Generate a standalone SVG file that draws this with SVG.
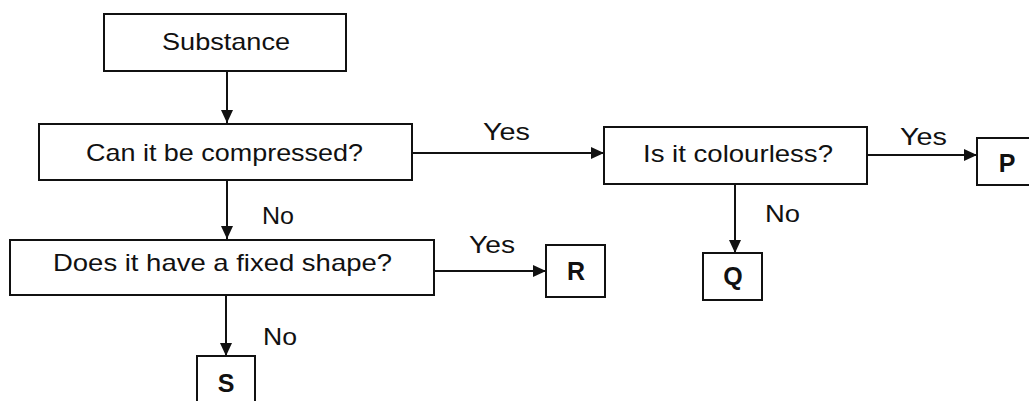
<svg xmlns="http://www.w3.org/2000/svg" width="1029" height="401" viewBox="0 0 1029 401">
<defs>
<style>
.box{fill:#fff;stroke:#111;stroke-width:2}
.t{font-family:"Liberation Sans",Arial,sans-serif;font-size:24px;fill:#111}
.b{font-family:"Liberation Sans",Arial,sans-serif;font-size:25px;font-weight:bold;fill:#111;text-anchor:middle}
.c{stroke:#111;stroke-width:2;fill:none;marker-end:url(#ah)}
</style>
<marker id="ah" markerUnits="userSpaceOnUse" markerWidth="14" markerHeight="12" refX="13" refY="6" orient="auto">
<path d="M0,0 L13,6 L0,12 Z" fill="#111"/>
</marker>
</defs>
<rect width="1029" height="401" fill="#fff"/>
<g id="connectors">
<line class="c" x1="227" y1="71" x2="227" y2="123"/>
<line class="c" x1="227" y1="180" x2="227" y2="239"/>
<line class="c" x1="412" y1="153" x2="604" y2="153"/>
<line class="c" x1="867" y1="155" x2="977" y2="155"/>
<line class="c" x1="735" y1="184" x2="735" y2="253"/>
<line class="c" x1="434" y1="271" x2="546" y2="271"/>
<line class="c" x1="226" y1="295" x2="226" y2="356"/>
<text class="t" x="483" y="140" textLength="47" lengthAdjust="spacingAndGlyphs">Yes</text>
<text class="t" x="900" y="145" textLength="47" lengthAdjust="spacingAndGlyphs">Yes</text>
<text class="t" x="469" y="253" textLength="46" lengthAdjust="spacingAndGlyphs">Yes</text>
<text class="t" x="262" y="224" textLength="32" lengthAdjust="spacingAndGlyphs">No</text>
<text class="t" x="765" y="222" textLength="35" lengthAdjust="spacingAndGlyphs">No</text>
<text class="t" x="263" y="345" textLength="34" lengthAdjust="spacingAndGlyphs">No</text>
</g>
<g id="substance">
<rect class="box" x="104" y="14" width="242" height="57"/>
<text class="t" x="162" y="50" textLength="128" lengthAdjust="spacingAndGlyphs">Substance</text>
</g>
<g id="compressed">
<rect class="box" x="39" y="124" width="373" height="56"/>
<text class="t" x="86" y="161" textLength="277" lengthAdjust="spacingAndGlyphs">Can it be compressed?</text>
</g>
<g id="colourless">
<rect class="box" x="604" y="127" width="263" height="57"/>
<text class="t" x="643" y="162" textLength="190" lengthAdjust="spacingAndGlyphs">Is it colourless?</text>
</g>
<g id="fixedshape">
<rect class="box" x="10" y="240" width="424" height="55"/>
<text class="t" x="53" y="271" textLength="339" lengthAdjust="spacingAndGlyphs">Does it have a fixed shape?</text>
</g>
<g id="P">
<rect class="box" x="977" y="138" width="60" height="47"/>
<text class="b" x="1007" y="172">P</text>
</g>
<g id="R">
<rect class="box" x="546" y="245" width="59" height="52"/>
<text class="b" x="576" y="280">R</text>
</g>
<g id="Q">
<rect class="box" x="703" y="253" width="59" height="47"/>
<text class="b" x="733" y="285">Q</text>
</g>
<g id="S">
<rect class="box" x="197" y="356" width="58" height="50"/>
<text class="b" x="226" y="392">S</text>
</g>
</svg>
